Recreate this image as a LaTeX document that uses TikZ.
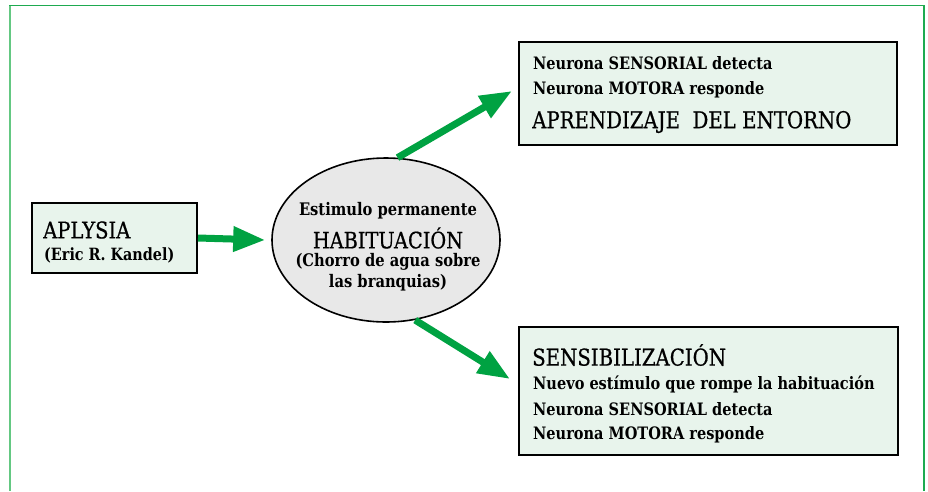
\documentclass[tikz,border=0pt]{standalone}
\usepackage{fontspec}
\setmainfont{DejaVu Serif}[FakeStretch=0.85]
\newfontfamily\capsfont{DejaVu Serif}[FakeStretch=0.85,FakeBold=0.6]
\usetikzlibrary{arrows.meta,shapes.geometric,calc}
\definecolor{arrgreen}{RGB}{0,162,66}
\definecolor{framegreen}{RGB}{30,170,80}
\definecolor{frameleft}{RGB}{100,200,130}
\definecolor{boxfill}{RGB}{232,244,236}
\definecolor{ellfill}{RGB}{232,232,232}
\tikzset{
  box/.style={draw=black,line width=2pt,fill=boxfill,inner sep=0pt},
  small/.style={font=\bfseries\fontsize{17.1}{19}\selectfont,anchor=west,inner sep=0pt},
  big/.style={font=\capsfont\fontsize{23.2}{25}\selectfont,anchor=west,inner sep=0pt},
  ellsmall/.style={font=\bfseries\fontsize{17.3}{19}\selectfont,inner sep=0pt},
  arr/.style={draw=arrgreen,line width=7pt,-{Triangle[length=32pt,width=24pt]}},
}
\begin{document}
\begin{tikzpicture}[x=1pt,y=-1pt]
\useasboundingbox (0,0) rectangle (928,491);
% frame
\draw[frameleft,line width=2.2pt] (10,5.5) -- (10,491);
\draw[framegreen,line width=1.6pt] (9,5.5) -- (924,5.5) -- (924,491);
% boxes
\node[box,minimum width=165pt,minimum height=70pt] (aply) at (114.5,238) {};
\node[box,minimum width=378pt,minimum height=103pt] (tr) at (708,93.5) {};
\node[box,minimum width=379pt,minimum height=128pt] (br) at (708.5,391) {};
\node[draw=black,line width=1.6pt,fill=ellfill,ellipse,minimum width=228pt,minimum height=164pt,inner sep=0pt] (ell) at (386,240) {};
% texts
\node[big,font=\capsfont\fontsize{23}{25}\selectfont] (t1) at (43,230) {APLYSIA};
\node[small,font=\bfseries\fontsize{16.9}{19}\selectfont] (t2) at (44,255) {(Eric R. Kandel)};
\node[ellsmall] (e1) at (388,211) {Estimulo permanente};
\node[font=\capsfont\fontsize{22.7}{25}\selectfont,inner sep=0pt] (e2) at (388,238) {HABITUACIÓN};
\node[ellsmall] (e3) at (388,262) {(Chorro de agua sobre};
\node[ellsmall] (e4) at (388,283) {las branquias)};
\node[small] (a1) at (533,63) {Neurona SENSORIAL detecta};
\node[small] (a2) at (533,90) {Neurona MOTORA responde};
\node[big] (a3) at (532,122) {APRENDIZAJE\ \ DEL ENTORNO};
\node[big] (b1) at (532,355) {SENSIBILIZACIÓN};
\node[small] (b2) at (533,384) {Nuevo estímulo que rompe la habituación};
\node[small] (b3) at (533,409) {Neurona SENSORIAL detecta};
\node[small] (b4) at (533,435) {Neurona MOTORA responde};
% arrows
\coordinate (tipTop) at ($(tr.north west)+(-6,50)$);
\coordinate (tipBot) at ($(br.north west)+(-8,53)$);
\draw[arr] (aply.east) -- ($(ell.west)+(-6,0)$);
\draw[arr] (ell.82) -- (tipTop);
\draw[arr] (ell.-70) -- (tipBot);
\end{tikzpicture}
\end{document}
